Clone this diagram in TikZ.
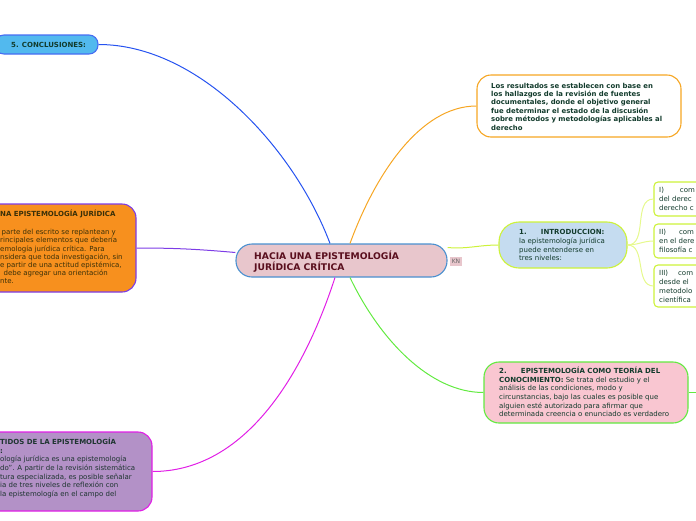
\documentclass[tikz,border=0pt]{standalone}
\usepackage{fontspec}
\setmainfont{DejaVu Sans}
\usetikzlibrary{positioning,calc}

\definecolor{inkgreen}{HTML}{123B2C}
\definecolor{inkred}{HTML}{5A0F1E}
\definecolor{inkbrown}{HTML}{3A3008}
\definecolor{inkslate}{HTML}{1E3530}
\definecolor{lnblue}{HTML}{2653F0}
\definecolor{lnorange}{HTML}{F6A623}
\definecolor{lnlime}{HTML}{CDF23A}
\definecolor{lnpale}{HTML}{E6F98E}
\definecolor{lngreen}{HTML}{62EA40}
\definecolor{lnmagenta}{HTML}{E11FE6}
\definecolor{lnpurple}{HTML}{7D3CE6}
\definecolor{lnroot}{HTML}{4A90D0}
\definecolor{fillroot}{HTML}{E8C6CC}
\definecolor{fillsky}{HTML}{52B9EE}
\definecolor{fillorange}{HTML}{F7901E}
\definecolor{fillmauve}{HTML}{B391C7}
\definecolor{fillice}{HTML}{C5DCF0}
\definecolor{fillrose}{HTML}{F9C6D1}

\begin{document}
\begin{tikzpicture}[x=1pt, y=-1pt,
  box/.style={rounded corners=#1, line width=1.1pt, inner sep=0pt},
  box/.default=14pt,
  txt/.style={anchor=north west, inner sep=0pt, align=left,
    font=\fontsize{7}{8.5}\selectfont, text=inkgreen},
  lnk/.style={line width=1pt}]
\useasboundingbox (0,0) rectangle (696,520);
\clip (0,0) rectangle (696,520);

% central topic
\node[box=16pt, draw=lnroot, fill=fillroot,
  minimum width=211pt, minimum height=33pt] (root) at (341.5,260.5) {};
\node[txt, font=\fontsize{9.2}{11}\selectfont\bfseries, text=inkred] (root-t)
  at (254,250.8) {HACIA UNA EPISTEMOLOGÍA\\JURÍDICA CRÍTICA};
\node[fill=fillroot, inner sep=0pt, minimum width=12pt, minimum height=9pt,
  font=\fontsize{6}{6}\selectfont, text=black!60] (kn) at (456,261.5) {KN};

% left side
\node[box=9pt, draw=lnblue!85, fill=fillsky, minimum width=103pt,
  minimum height=19pt] (concl) at (46.5,44.5) {};
\node[txt, font=\fontsize{7}{8.5}\selectfont\bfseries] (concl-t) at (11,42.4)
  {5. CONCLUSIONES:};

\node[box, draw=lnpurple, fill=fillorange, minimum width=156pt,
  minimum height=88pt] (orng) at (58,248) {};
\node[txt, font=\fontsize{7}{8.2}\selectfont, text=inkbrown] (orng-t) at (0,210)
  {\textbf{NA EPISTEMOLOGÍA JURÍDICA}\\[9.8pt]
   \hspace{1.5pt}parte del escrito se replantean y\\
   rincipales elementos que debería\\
   emología jurídica crítica. Para\\
   nsidera que toda investigación, sin\\
   e partir de una actitud epistémica,\\
   \hspace{3.5pt}debe agregar una orientación\\
   nte.};

\node[box, draw=lnmagenta, fill=fillmauve, minimum width=172pt,
  minimum height=79pt] (prpl) at (66,471.5) {};
\node[txt, font=\fontsize{7}{8.6}\selectfont, text=inkslate] (prpl-t) at (0,438)
  {\textbf{TIDOS DE LA EPISTEMOLOGÍA}\\
   \textbf{:}\\
   ología jurídica es una epistemología\\
   do”. A partir de la revisión sistemática\\
   tura especializada, es posible señalar\\
   ia de tres niveles de reflexión con\\
   la epistemología en el campo del};

% right side
\node[box, draw=lnorange, fill=white, minimum width=204pt,
  minimum height=62pt] (res) at (579,106) {};
\node[txt, font=\fontsize{6.9}{8.4}\selectfont\bfseries] (res-t) at (491,82.6)
  {Los resultados se establecen con base en\\
   los hallazgos de la revisión de fuentes\\
   documentales, donde el objetivo general\\
   fue determinar el estado de la discusión\\
   sobre métodos y metodologías aplicables al\\
   derecho};

\node[box=20pt, draw=lnlime, fill=fillice, minimum width=128pt,
  minimum height=46pt] (intro) at (563,245) {};
\node[txt, font=\fontsize{7}{8.7}\selectfont] (intro-t) at (519,229.4)
  {\textbf{1.\hspace{11pt} INTRODUCCION:}\\
   la epistemología jurídica\\
   puede entenderse en\\
   tres niveles:};

\node[box=4pt, draw=lnlime, fill=white, minimum width=66pt,
  minimum height=34pt] (lvl1) at (687,199) {};
\node[box=4pt, draw=lnlime, fill=white, minimum width=66pt,
  minimum height=34pt] (lvl2) at (687,241) {};
\node[box=4pt, draw=lnlime, fill=white, minimum width=66pt,
  minimum height=42pt] (lvl3) at (687,286) {};
\node[txt, font=\fontsize{7}{9}\selectfont] (lvl1-t) at (659,187.2)
  {I)\hspace{16pt}com\\del derec\\derecho c};
\node[txt, font=\fontsize{7}{9}\selectfont] (lvl2-t) at (659,229.2)
  {II)\hspace{13pt}com\\en el dere\\filosofía c};
\node[txt, font=\fontsize{7}{8.8}\selectfont] (lvl3-t) at (659,270.3)
  {III)\hspace{10pt}com\\desde el\\metodolo\\científica};

\node[box=15pt, draw=lngreen, fill=fillrose, minimum width=204pt,
  minimum height=61pt] (teo) at (586,392.5) {};
\node[txt, font=\fontsize{7}{8.6}\selectfont] (teo-t) at (499,367)
  {\textbf{2.\hspace{11pt} EPISTEMOLOGÍA COMO TEORÍA DEL}\\
   \textbf{CONOCIMIENTO:} Se trata del estudio y el\\
   análisis de las condiciones, modo y\\
   circunstancias, bajo las cuales es posible que\\
   alguien esté autorizado para afirmar que\\
   determinada creencia o enunciado es verdadero};
\coordinate (teo-out) at (710,392.5);

% connectors
\draw[lnk, lnblue] (concl.east) .. controls (200,44.5) and (295,150) .. ([xshift=-11.5pt]root.north);
\draw[lnk, lnorange] ([xshift=8.5pt]root.north) .. controls (375,175) and (420,106) .. (res.west);
\draw[lnk, lnlime] ([yshift=13pt]root.east) to[out=-5,in=180] (intro.west);
\draw[lnk, lngreen] ([xshift=8.5pt]root.south) .. controls (380,340) and (430,392.5) .. (teo.west);
\draw[lnk, lnmagenta] ([xshift=-6.5pt]root.south) .. controls (300,385) and (240,471.5) .. (prpl.east);
\draw[lnk, lnpurple] ([yshift=8pt]root.west) to[out=175,in=0] (orng.east);
\draw[lnk, lnpale] (intro.east) to[out=0,in=180] (lvl1.west);
\draw[lnk, lnpale] (intro.east) to[out=0,in=180] (lvl2.west);
\draw[lnk, lnpale] (intro.east) to[out=0,in=180] (lvl3.west);
\draw[lnk, lngreen] (teo.east) -- (teo-out);
\end{tikzpicture}
\end{document}
